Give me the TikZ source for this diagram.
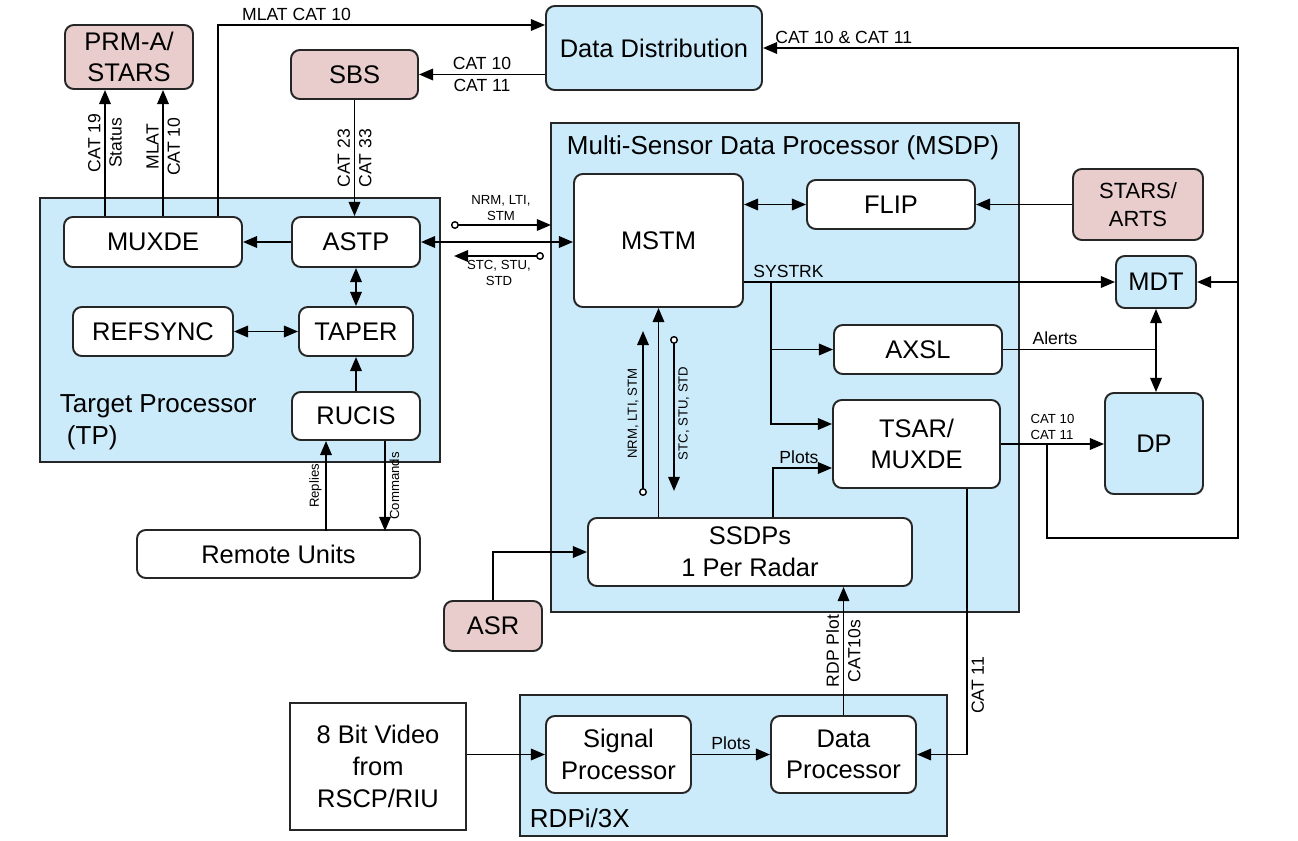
\documentclass[tikz,border=0pt]{standalone}
\usepackage{fontspec}
\setmainfont{Liberation Sans}
\usetikzlibrary{
    arrows.meta,
    calc,
    positioning
}
\definecolor{boxblue}{HTML}{CCEBFA}
\definecolor{boxpink}{HTML}{E8CDCC}
\definecolor{edgegray}{HTML}{262626}
\tikzset{
    every picture/.style = {
        > = {Triangle[length = 8pt, width = 6.5pt]},
        line width = 1.1pt
    },
    sz/.style args = {#1 and #2}{
        minimum width = #1*0.02cm,
        minimum height = #2*0.02cm
    },
    blk/.style = {
        draw = edgegray,
        rounded corners = 5pt,
        fill = white,
        align = center,
        inner sep = 1pt,
        font = \fontsize{14.5}{18}\selectfont
    },
    ext/.style = {blk, fill = boxpink},
    sub/.style = {blk, fill = boxblue},
    src/.style = {blk, rounded corners = 0pt},
    group/.style = {draw = edgegray, fill = boxblue},
    grouptitle/.style = {
        anchor = west,
        align = left,
        inner sep = 0pt,
        font = \fontsize{14.8}{18}\selectfont
    },
    lbl/.style = {font = \fontsize{10}{11.5}\selectfont, inner sep = 2pt, align = center},
    tiny/.style = {font = \fontsize{7.5}{9}\selectfont, inner sep = 2pt, align = center},
    vlbl/.style = {lbl, rotate = 90},
    vtiny/.style = {tiny, rotate = 90},
    tap/.style = {arrows = {Circle[fill = white, length = 4.5pt, width = 4.5pt, line width = 0.8pt]->}}
}

\begin{document}
\begin{tikzpicture}[x = 0.02cm, y = -0.02cm]
    \useasboundingbox (0, 0) rectangle (1298, 841);

    % groups
    \node[group, sz = 400 and 264] (tp) at (240, 330) {};
    \node[group, sz = 468 and 489] (msdp) at (785, 367.5) {};
    \node[group, sz = 427 and 141] (rdp) at (733.5, 765.5) {};
    \node[grouptitle] (tptitle) at (59, 422) {Target Processor\\\hspace*{4pt}(TP)};
    \node[grouptitle] (msdptitle) at (566, 148) {Multi-Sensor Data Processor (MSDP)};
    \node[grouptitle] (rdptitle) at (529, 818) {RDPi/3X};

    % blocks
    \node[ext, sz = 128 and 64] (prm) at (129, 57) {PRM-A/\\STARS};
    \node[ext, sz = 127 and 49] (sbs) at (354.5, 74.5) {SBS};
    \node[sub, sz = 216 and 84] (dd) at (654, 48) {Data Distribution};
    \node[blk, sz = 178 and 50] (muxde) at (153, 242) {MUXDE};
    \node[blk, sz = 128 and 50] (astp) at (356, 242) {ASTP};
    \node[blk, sz = 160 and 49] (refsync) at (153, 331.5) {REFSYNC};
    \node[blk, sz = 114 and 49] (taper) at (356, 331.5) {TAPER};
    \node[blk, sz = 128 and 48] (rucis) at (356, 416) {RUCIS};
    \node[blk, sz = 283 and 48] (remote) at (278.5, 554) {Remote Units};
    \node[blk, sz = 169 and 133] (mstm) at (658.5, 240.5) {MSTM};
    \node[blk, sz = 168 and 49] (flip) at (891, 204.5) {FLIP};
    \node[ext, sz = 130 and 71, font = \fontsize{12.5}{16}\selectfont] (stars) at (1138, 204.5) {STARS/\\ARTS};
    \node[sub, sz = 80 and 52] (mdt) at (1156, 282) {MDT};
    \node[blk, sz = 168 and 49] (axsl) at (918, 349.5) {AXSL};
    \node[blk, sz = 167 and 88] (tsar) at (916.5, 444) {TSAR/\\MUXDE};
    \node[sub, sz = 98 and 101] (dp) at (1154, 443.5) {DP};
    \node[blk, sz = 324 and 68] (ssdp) at (750, 552) {SSDPs\\1 Per Radar};
    \node[ext, sz = 98 and 50] (asr) at (493, 626) {ASR};
    \node[blk, sz = 145 and 77] (sigp) at (618.5, 754.5) {Signal\\Processor};
    \node[blk, sz = 145 and 77] (datap) at (843.5, 754.5) {Data\\Processor};
    \node[src, sz = 176 and 127] (video) at (378, 766.5) {8 Bit Video\\from\\RSCP/RIU};

    % target processor
    \draw[->] ([shift = {(-48, 0)}]muxde.north) -- ([shift = {(-24, 0)}]prm.south)
        node[pos = 0.58, vlbl, above] {CAT 19}
        node[pos = 0.58, vlbl, below] {Status};
    \draw[->] ([shift = {(10, 0)}]muxde.north) -- ([shift = {(34, 0)}]prm.south)
        node[pos = 0.55, vlbl, above] {MLAT}
        node[pos = 0.55, vlbl, below] {CAT 10};
    \draw[->] ([shift = {(65, 0)}]muxde.north) |- ([shift = {(0, -23)}]dd.west)
        node[pos = 0.62, lbl, above] {MLAT CAT 10};
    \draw[->] (dd.west |- sbs.east) -- (sbs.east)
        node[midway, lbl, above] {CAT 10}
        node[midway, lbl, below] {CAT 11};
    \draw[->] (sbs.south) -- (sbs.south |- astp.north)
        node[midway, vlbl, above] {CAT 23}
        node[midway, vlbl, below] {CAT 33};
    \path[->] (astp.west) edge (muxde.east);
    \path[<->] (astp.south) edge (taper.north);
    \path[<->] (refsync.east) edge (taper.west);
    \path[->] (rucis.north) edge (taper.south);
    \draw[->] ([shift = {(-30, 90)}]rucis.south) -- ([shift = {(-30, 0)}]rucis.south)
        node[midway, vtiny, above] {Replies};
    \draw[->] ([shift = {(29, 0)}]rucis.south) -- ([shift = {(29, 90)}]rucis.south)
        node[midway, vtiny, below] {Commands};

    % tp <-> msdp
    \path[<->] (astp.east) edge (astp.east -| mstm.west);
    \draw[tap] ([shift = {(30, -17)}]astp.east) -- ([shift = {(130, -17)}]astp.east)
        node[midway, tiny, above] {NRM, LTI,\\STM};
    \draw[tap] ([shift = {(123, 14)}]astp.east) -- ([shift = {(33, 14)}]astp.east)
        node[midway, tiny, below] {STC, STU,\\STD};

    % msdp
    \path[<->] (mstm.east |- flip.west) edge (flip.west);
    \path[->] (stars.west) edge (flip.east);
    \draw[->] (mstm.east |- mdt.west) -- (mdt.west)
        node[pos = 0.12, lbl, above] {SYSTRK};
    \path (mstm.east |- mdt.west) ++(27, 0) coordinate (trk);
    \draw[->] (trk) |- (axsl.west);
    \draw[->] (trk) |- ([shift = {(0, -20)}]tsar.west);
    \draw (axsl.east) -- (axsl.east -| mdt.south)
        node[pos = 0.34, lbl, above] {Alerts};
    \path[<->] (mdt.south) edge (mdt.south |- dp.north);
    \draw[->] (tsar.east) -- (tsar.east -| dp.west)
        node[midway, tiny, above, align = left] {CAT 10\\CAT 11};
    \coordinate (bus0) at ([shift = {(46, 0)}]tsar.east);
    \coordinate (bus1) at ([shift = {(237, 94)}]tsar.east);
    \draw[->] (bus0) |- (bus1) |- (dd.east)
        node[pos = 0.915, lbl, above] {CAT 10 \& CAT 11};
    \draw[->] (mdt.east -| bus1) -- (mdt.east);
    \draw[->] ([shift = {(50.5, 0)}]tsar.south) |- (datap.east)
        node[pos = 0.37, vlbl, below] {CAT 11};

    % ssdp
    \path[->] (ssdp.north -| mstm.south) edge (mstm.south);
    \draw[tap] ([shift = {(-15.5, 188)}]mstm.south) -- ([shift = {(-15.5, 23)}]mstm.south)
        node[midway, vtiny, above] {NRM, LTI, STM};
    \draw[tap] ([shift = {(15.5, 28)}]mstm.south) -- ([shift = {(15.5, 183)}]mstm.south)
        node[midway, vtiny, below] {STC, STU, STD};
    \draw[->] ([shift = {(23, 0)}]ssdp.north) |- ([shift = {(0, 24)}]tsar.west)
        node[pos = 0.72, lbl, above] {Plots};
    \draw[->] (asr.north) |- (ssdp.west);
    \path[->] (datap.north) edge
        node[midway, vlbl, above] {RDP Plot}
        node[midway, vlbl, below] {CAT10s} (datap.north |- ssdp.south);

    % rdp
    \path[->] (video.east |- sigp.west) edge (sigp.west);
    \path[->] (sigp.east) edge node[midway, lbl, above] {Plots} (datap.west);
\end{tikzpicture}
\end{document}
